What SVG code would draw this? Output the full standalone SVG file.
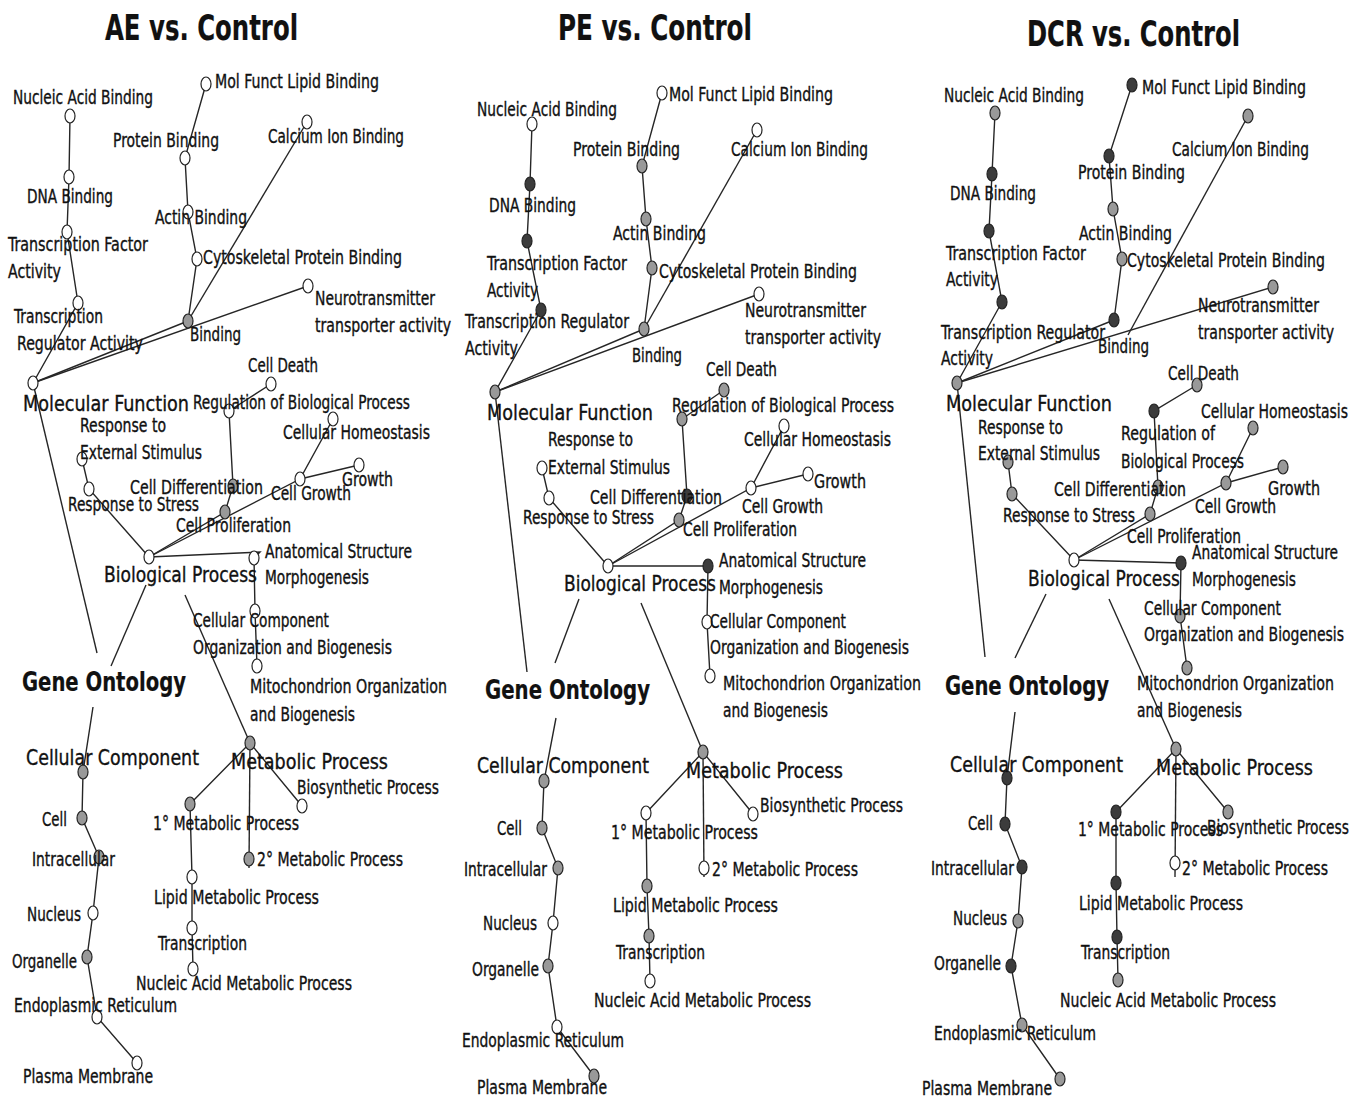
<svg xmlns="http://www.w3.org/2000/svg" width="1365" height="1100" viewBox="0 0 1365 1100">
<style>
.bg{fill:#fff}
.l{fill:none;stroke:#262626;stroke-width:1.4}
.n{stroke:#222;stroke-width:1.2}
.w{fill:#fff}.g{fill:#999}.d{fill:#3c3c3c}
text{font-family:"DejaVu Sans Condensed","Liberation Sans",sans-serif;font-size:19px;fill:#111;stroke:#111;stroke-width:0.35}
.b{font-size:22px}
.go{font-size:26px;font-weight:bold;stroke-width:0.2}
.ti{font-size:36px;font-weight:bold;stroke-width:0.2}
</style>
<rect class="bg" x="0" y="0" width="1365" height="1100"/>
<g id="connectors">
<!-- AE -->
<polyline class="l" points="33,383 188,321"/>
<polyline class="l" points="33,383 308,286"/>
<polyline class="l" points="33,383 78,303 67,232 69,177 70,116"/>
<polyline class="l" points="188,321 197,259 188,212 185,158 206,84"/>
<polyline class="l" points="188,321 307,122"/>
<polyline class="l" points="149,557 89,489 82,459"/>
<polyline class="l" points="149,557 225,512 233,486 229,411 271,384"/>
<polyline class="l" points="149,557 300,479 333,419"/>
<polyline class="l" points="300,479 359,465"/>
<polyline class="l" points="149,557 260,552 254,558 255,611 257,666"/>
<polyline class="l" points="33,383 97,653"/>
<polyline class="l" points="146,585 111,666"/>
<polyline class="l" points="185,595 250,743"/>
<polyline class="l" points="93,707 83,772 82,818 99,857 93,913 87,957 97,1017 137,1063"/>
<polyline class="l" points="190,804 250,743 302,806"/>
<polyline class="l" points="250,743 249,868"/>
<polyline class="l" points="190,804 192,877 192,928 193,969"/>
<!-- PE -->
<polyline class="l" points="495,392 644,329"/>
<polyline class="l" points="495,392 759,294"/>
<polyline class="l" points="495,392 541,310 527,241 530,184 532,124"/>
<polyline class="l" points="644,329 652,268 646,219 642,166 662,93"/>
<polyline class="l" points="644,329 757,130"/>
<polyline class="l" points="608,566 549,498 542,468"/>
<polyline class="l" points="608,566 679,520 687,496 682,419 724,390"/>
<polyline class="l" points="608,566 751,488 784,426"/>
<polyline class="l" points="751,488 808,474"/>
<polyline class="l" points="608,566 708,566 707,622 710,676"/>
<polyline class="l" points="495,392 527,672"/>
<polyline class="l" points="579,599 555,663"/>
<polyline class="l" points="641,603 703,752"/>
<polyline class="l" points="556,718 544,781 542,828 558,868 553,923 548,966 557,1027 594,1076"/>
<polyline class="l" points="646,813 703,752 753,814"/>
<polyline class="l" points="703,752 704,877"/>
<polyline class="l" points="646,813 647,886 649,936 650,981"/>
<!-- DCR -->
<polyline class="l" points="957,383 1114,320"/>
<polyline class="l" points="957,383 1273,287"/>
<polyline class="l" points="957,383 1002,302 989,231 992,174 995,113"/>
<polyline class="l" points="1114,320 1122,259 1113,209 1109,156 1132,85"/>
<polyline class="l" points="1128,335 1248,116"/>
<polyline class="l" points="1074,560 1012,494 1008,462"/>
<polyline class="l" points="1074,560 1150,514 1158,487 1154,411 1197,385"/>
<polyline class="l" points="1074,560 1226,483 1253,428"/>
<polyline class="l" points="1226,483 1283,467"/>
<polyline class="l" points="1074,560 1181,563 1180,616 1187,668"/>
<polyline class="l" points="957,383 985,657"/>
<polyline class="l" points="1046,594 1015,658"/>
<polyline class="l" points="1109,599 1176,749"/>
<polyline class="l" points="1015,712 1007,778 1005,824 1022,867 1018,921 1011,966 1022,1025 1060,1079"/>
<polyline class="l" points="1116,812 1176,749 1228,812"/>
<polyline class="l" points="1176,749 1175,877"/>
<polyline class="l" points="1116,812 1116,883 1117,937 1118,980"/>
</g>

<!-- ============ AE vs. Control ============ -->
<g id="ae-title"><text class="ti" x="105" y="40" textLength="193" lengthAdjust="spacingAndGlyphs">AE vs. Control</text></g>
<g id="ae-mflb"><ellipse class="n w" cx="206" cy="84" rx="5" ry="7"/><text x="215" y="88" textLength="164" lengthAdjust="spacingAndGlyphs">Mol Funct Lipid Binding</text></g>
<g id="ae-nab"><ellipse class="n w" cx="70" cy="116" rx="5" ry="7"/><text x="13" y="104" textLength="140" lengthAdjust="spacingAndGlyphs">Nucleic Acid Binding</text></g>
<g id="ae-pb"><ellipse class="n w" cx="185" cy="158" rx="5" ry="7"/><text x="113" y="147" textLength="106" lengthAdjust="spacingAndGlyphs">Protein Binding</text></g>
<g id="ae-cib"><ellipse class="n w" cx="307" cy="122" rx="5" ry="7"/><text x="268" y="143" textLength="136" lengthAdjust="spacingAndGlyphs">Calcium Ion Binding</text></g>
<g id="ae-dna"><ellipse class="n w" cx="69" cy="177" rx="5" ry="7"/><text x="27" y="203" textLength="86" lengthAdjust="spacingAndGlyphs">DNA Binding</text></g>
<g id="ae-actin"><ellipse class="n w" cx="188" cy="212" rx="5" ry="7"/><text x="155" y="224" textLength="92" lengthAdjust="spacingAndGlyphs">Actin Binding</text></g>
<g id="ae-tfa"><ellipse class="n w" cx="67" cy="232" rx="5" ry="7"/><text x="8" y="251" textLength="140" lengthAdjust="spacingAndGlyphs">Transcription Factor</text><text x="8" y="278" textLength="53" lengthAdjust="spacingAndGlyphs">Activity</text></g>
<g id="ae-cyto"><ellipse class="n w" cx="197" cy="259" rx="5" ry="7"/><text x="203" y="264" textLength="199" lengthAdjust="spacingAndGlyphs">Cytoskeletal Protein Binding</text></g>
<g id="ae-neuro"><ellipse class="n w" cx="308" cy="286" rx="5" ry="7"/><text x="315" y="305" textLength="120" lengthAdjust="spacingAndGlyphs">Neurotransmitter</text><text x="315" y="332" textLength="136" lengthAdjust="spacingAndGlyphs">transporter activity</text></g>
<g id="ae-tra"><ellipse class="n w" cx="78" cy="303" rx="5" ry="7"/><text x="14" y="323" textLength="89" lengthAdjust="spacingAndGlyphs">Transcription</text><text x="17" y="350" textLength="126" lengthAdjust="spacingAndGlyphs">Regulator Activity</text></g>
<g id="ae-binding"><ellipse class="n g" cx="188" cy="321" rx="5" ry="7"/><text x="190" y="341" textLength="51" lengthAdjust="spacingAndGlyphs">Binding</text></g>
<g id="ae-mf"><ellipse class="n w" cx="33" cy="383" rx="5" ry="7"/><text class="b" x="23" y="411" textLength="166" lengthAdjust="spacingAndGlyphs">Molecular Function</text></g>
<g id="ae-celldeath"><ellipse class="n w" cx="271" cy="384" rx="5" ry="7"/><text x="248" y="372" textLength="70" lengthAdjust="spacingAndGlyphs">Cell Death</text></g>
<g id="ae-regbp"><ellipse class="n w" cx="229" cy="411" rx="5" ry="7"/><text x="193" y="409" textLength="217" lengthAdjust="spacingAndGlyphs">Regulation of Biological Process</text></g>
<g id="ae-homeo"><ellipse class="n w" cx="333" cy="419" rx="5" ry="7"/><text x="283" y="439" textLength="147" lengthAdjust="spacingAndGlyphs">Cellular Homeostasis</text></g>
<g id="ae-respext"><ellipse class="n w" cx="82" cy="459" rx="5" ry="7"/><text x="80" y="432" textLength="86" lengthAdjust="spacingAndGlyphs">Response to</text><text x="80" y="459" textLength="122" lengthAdjust="spacingAndGlyphs">External Stimulus</text></g>
<g id="ae-growth"><ellipse class="n w" cx="359" cy="465" rx="5" ry="7"/><text x="342" y="486" textLength="51" lengthAdjust="spacingAndGlyphs">Growth</text></g>
<g id="ae-cellgrowth"><ellipse class="n w" cx="300" cy="479" rx="5" ry="7"/><text x="271" y="500" textLength="80" lengthAdjust="spacingAndGlyphs">Cell Growth</text></g>
<g id="ae-respstress"><ellipse class="n w" cx="89" cy="489" rx="5" ry="7"/><text x="68" y="511" textLength="131" lengthAdjust="spacingAndGlyphs">Response to Stress</text></g>
<g id="ae-celldiff"><ellipse class="n g" cx="233" cy="486" rx="5" ry="7"/><text x="130" y="494" textLength="133" lengthAdjust="spacingAndGlyphs">Cell Differentiation</text></g>
<g id="ae-cellprolif"><ellipse class="n g" cx="225" cy="512" rx="5" ry="7"/><text x="176" y="532" textLength="115" lengthAdjust="spacingAndGlyphs">Cell Proliferation</text></g>
<g id="ae-bp"><ellipse class="n w" cx="149" cy="557" rx="5" ry="7"/><text class="b" x="104" y="582" textLength="153" lengthAdjust="spacingAndGlyphs">Biological Process</text></g>
<g id="ae-anat"><ellipse class="n w" cx="254" cy="558" rx="5" ry="7"/><text x="265" y="558" textLength="147" lengthAdjust="spacingAndGlyphs">Anatomical Structure</text><text x="265" y="584" textLength="104" lengthAdjust="spacingAndGlyphs">Morphogenesis</text></g>
<g id="ae-ccorg"><ellipse class="n w" cx="255" cy="611" rx="5" ry="7"/><text x="193" y="627" textLength="136" lengthAdjust="spacingAndGlyphs">Cellular Component</text><text x="193" y="654" textLength="199" lengthAdjust="spacingAndGlyphs">Organization and Biogenesis</text></g>
<g id="ae-mito"><ellipse class="n w" cx="257" cy="666" rx="5" ry="7"/><text x="250" y="693" textLength="197" lengthAdjust="spacingAndGlyphs">Mitochondrion Organization</text><text x="250" y="721" textLength="105" lengthAdjust="spacingAndGlyphs">and Biogenesis</text></g>
<g id="ae-go"><text class="go" x="22" y="691" textLength="164" lengthAdjust="spacingAndGlyphs">Gene Ontology</text></g>
<g id="ae-cc"><ellipse class="n g" cx="83" cy="772" rx="5" ry="7"/><text class="b" x="26" y="765" textLength="173" lengthAdjust="spacingAndGlyphs">Cellular Component</text></g>
<g id="ae-cell"><ellipse class="n g" cx="82" cy="818" rx="5" ry="7"/><text x="42" y="826" textLength="25" lengthAdjust="spacingAndGlyphs">Cell</text></g>
<g id="ae-intra"><ellipse class="n g" cx="99" cy="857" rx="5" ry="7"/><text x="32" y="866" textLength="83" lengthAdjust="spacingAndGlyphs">Intracellular</text></g>
<g id="ae-nucleus"><ellipse class="n w" cx="93" cy="913" rx="5" ry="7"/><text x="27" y="921" textLength="54" lengthAdjust="spacingAndGlyphs">Nucleus</text></g>
<g id="ae-organelle"><ellipse class="n g" cx="87" cy="957" rx="5" ry="7"/><text x="12" y="968" textLength="65" lengthAdjust="spacingAndGlyphs">Organelle</text></g>
<g id="ae-er"><ellipse class="n w" cx="97" cy="1017" rx="5" ry="7"/><text x="14" y="1012" textLength="163" lengthAdjust="spacingAndGlyphs">Endoplasmic Reticulum</text></g>
<g id="ae-pm"><ellipse class="n w" cx="137" cy="1063" rx="5" ry="7"/><text x="23" y="1083" textLength="130" lengthAdjust="spacingAndGlyphs">Plasma Membrane</text></g>
<g id="ae-metab"><ellipse class="n g" cx="250" cy="743" rx="5" ry="7"/><text class="b" x="231" y="769" textLength="157" lengthAdjust="spacingAndGlyphs">Metabolic Process</text></g>
<g id="ae-m1"><ellipse class="n g" cx="190" cy="804" rx="5" ry="7"/><text x="153" y="830" textLength="146" lengthAdjust="spacingAndGlyphs">1° Metabolic Process</text></g>
<g id="ae-bio"><ellipse class="n w" cx="302" cy="806" rx="5" ry="7"/><text x="297" y="794" textLength="142" lengthAdjust="spacingAndGlyphs">Biosynthetic Process</text></g>
<g id="ae-m2"><ellipse class="n g" cx="249" cy="859" rx="5" ry="7"/><text x="257" y="866" textLength="146" lengthAdjust="spacingAndGlyphs">2° Metabolic Process</text></g>
<g id="ae-lipid"><ellipse class="n w" cx="192" cy="877" rx="5" ry="7"/><text x="154" y="904" textLength="165" lengthAdjust="spacingAndGlyphs">Lipid Metabolic Process</text></g>
<g id="ae-transcr"><ellipse class="n w" cx="192" cy="928" rx="5" ry="7"/><text x="158" y="950" textLength="89" lengthAdjust="spacingAndGlyphs">Transcription</text></g>
<g id="ae-namp"><ellipse class="n w" cx="193" cy="969" rx="5" ry="7"/><text x="136" y="990" textLength="216" lengthAdjust="spacingAndGlyphs">Nucleic Acid Metabolic Process</text></g>

<!-- ============ PE vs. Control ============ -->
<g id="pe-title"><text class="ti" x="558" y="40" textLength="194" lengthAdjust="spacingAndGlyphs">PE vs. Control</text></g>
<g id="pe-mflb"><ellipse class="n w" cx="662" cy="93" rx="5" ry="7"/><text x="669" y="101" textLength="164" lengthAdjust="spacingAndGlyphs">Mol Funct Lipid Binding</text></g>
<g id="pe-nab"><ellipse class="n w" cx="532" cy="124" rx="5" ry="7"/><text x="477" y="116" textLength="140" lengthAdjust="spacingAndGlyphs">Nucleic Acid Binding</text></g>
<g id="pe-pb"><ellipse class="n g" cx="642" cy="166" rx="5" ry="7"/><text x="573" y="156" textLength="107" lengthAdjust="spacingAndGlyphs">Protein Binding</text></g>
<g id="pe-cib"><ellipse class="n w" cx="757" cy="130" rx="5" ry="7"/><text x="731" y="156" textLength="137" lengthAdjust="spacingAndGlyphs">Calcium Ion Binding</text></g>
<g id="pe-dna"><ellipse class="n d" cx="530" cy="184" rx="5" ry="7"/><text x="489" y="212" textLength="87" lengthAdjust="spacingAndGlyphs">DNA Binding</text></g>
<g id="pe-actin"><ellipse class="n g" cx="646" cy="219" rx="5" ry="7"/><text x="613" y="240" textLength="93" lengthAdjust="spacingAndGlyphs">Actin Binding</text></g>
<g id="pe-tfa"><ellipse class="n d" cx="527" cy="241" rx="5" ry="7"/><text x="487" y="270" textLength="140" lengthAdjust="spacingAndGlyphs">Transcription Factor</text><text x="487" y="297" textLength="51" lengthAdjust="spacingAndGlyphs">Activity</text></g>
<g id="pe-cyto"><ellipse class="n g" cx="652" cy="268" rx="5" ry="7"/><text x="659" y="278" textLength="198" lengthAdjust="spacingAndGlyphs">Cytoskeletal Protein Binding</text></g>
<g id="pe-neuro"><ellipse class="n w" cx="759" cy="294" rx="5" ry="7"/><text x="745" y="317" textLength="121" lengthAdjust="spacingAndGlyphs">Neurotransmitter</text><text x="745" y="344" textLength="136" lengthAdjust="spacingAndGlyphs">transporter activity</text></g>
<g id="pe-tra"><ellipse class="n d" cx="541" cy="310" rx="5" ry="7"/><text x="465" y="328" textLength="164" lengthAdjust="spacingAndGlyphs">Transcription Regulator</text><text x="465" y="355" textLength="53" lengthAdjust="spacingAndGlyphs">Activity</text></g>
<g id="pe-binding"><ellipse class="n g" cx="644" cy="329" rx="5" ry="7"/><text x="632" y="362" textLength="50" lengthAdjust="spacingAndGlyphs">Binding</text></g>
<g id="pe-mf"><ellipse class="n g" cx="495" cy="392" rx="5" ry="7"/><text class="b" x="487" y="420" textLength="166" lengthAdjust="spacingAndGlyphs">Molecular Function</text></g>
<g id="pe-celldeath"><ellipse class="n g" cx="724" cy="390" rx="5" ry="7"/><text x="706" y="376" textLength="71" lengthAdjust="spacingAndGlyphs">Cell Death</text></g>
<g id="pe-regbp"><ellipse class="n g" cx="682" cy="419" rx="5" ry="7"/><text x="672" y="412" textLength="222" lengthAdjust="spacingAndGlyphs">Regulation of Biological Process</text></g>
<g id="pe-homeo"><ellipse class="n w" cx="784" cy="426" rx="5" ry="7"/><text x="744" y="446" textLength="147" lengthAdjust="spacingAndGlyphs">Cellular Homeostasis</text></g>
<g id="pe-respext"><ellipse class="n w" cx="542" cy="468" rx="5" ry="7"/><text x="548" y="446" textLength="85" lengthAdjust="spacingAndGlyphs">Response to</text><text x="548" y="474" textLength="122" lengthAdjust="spacingAndGlyphs">External Stimulus</text></g>
<g id="pe-growth"><ellipse class="n w" cx="808" cy="474" rx="5" ry="7"/><text x="814" y="488" textLength="52" lengthAdjust="spacingAndGlyphs">Growth</text></g>
<g id="pe-cellgrowth"><ellipse class="n w" cx="751" cy="488" rx="5" ry="7"/><text x="742" y="513" textLength="81" lengthAdjust="spacingAndGlyphs">Cell Growth</text></g>
<g id="pe-respstress"><ellipse class="n w" cx="549" cy="498" rx="5" ry="7"/><text x="523" y="524" textLength="131" lengthAdjust="spacingAndGlyphs">Response to Stress</text></g>
<g id="pe-celldiff"><ellipse class="n d" cx="687" cy="496" rx="5" ry="7"/><text x="590" y="504" textLength="132" lengthAdjust="spacingAndGlyphs">Cell Differentiation</text></g>
<g id="pe-cellprolif"><ellipse class="n g" cx="679" cy="520" rx="5" ry="7"/><text x="683" y="536" textLength="114" lengthAdjust="spacingAndGlyphs">Cell Proliferation</text></g>
<g id="pe-bp"><ellipse class="n w" cx="608" cy="566" rx="5" ry="7"/><text class="b" x="564" y="591" textLength="152" lengthAdjust="spacingAndGlyphs">Biological Process</text></g>
<g id="pe-anat"><ellipse class="n d" cx="708" cy="566" rx="5" ry="7"/><text x="719" y="567" textLength="147" lengthAdjust="spacingAndGlyphs">Anatomical Structure</text><text x="719" y="594" textLength="104" lengthAdjust="spacingAndGlyphs">Morphogenesis</text></g>
<g id="pe-ccorg"><ellipse class="n w" cx="707" cy="622" rx="5" ry="7"/><text x="710" y="628" textLength="136" lengthAdjust="spacingAndGlyphs">Cellular Component</text><text x="710" y="654" textLength="199" lengthAdjust="spacingAndGlyphs">Organization and Biogenesis</text></g>
<g id="pe-mito"><ellipse class="n w" cx="710" cy="676" rx="5" ry="7"/><text x="723" y="690" textLength="198" lengthAdjust="spacingAndGlyphs">Mitochondrion Organization</text><text x="723" y="717" textLength="105" lengthAdjust="spacingAndGlyphs">and Biogenesis</text></g>
<g id="pe-go"><text class="go" x="485" y="699" textLength="165" lengthAdjust="spacingAndGlyphs">Gene Ontology</text></g>
<g id="pe-cc"><ellipse class="n g" cx="544" cy="781" rx="5" ry="7"/><text class="b" x="477" y="773" textLength="172" lengthAdjust="spacingAndGlyphs">Cellular Component</text></g>
<g id="pe-cell"><ellipse class="n g" cx="542" cy="828" rx="5" ry="7"/><text x="497" y="835" textLength="25" lengthAdjust="spacingAndGlyphs">Cell</text></g>
<g id="pe-intra"><ellipse class="n g" cx="558" cy="868" rx="5" ry="7"/><text x="464" y="876" textLength="83" lengthAdjust="spacingAndGlyphs">Intracellular</text></g>
<g id="pe-nucleus"><ellipse class="n w" cx="553" cy="923" rx="5" ry="7"/><text x="483" y="930" textLength="54" lengthAdjust="spacingAndGlyphs">Nucleus</text></g>
<g id="pe-organelle"><ellipse class="n g" cx="548" cy="966" rx="5" ry="7"/><text x="472" y="976" textLength="67" lengthAdjust="spacingAndGlyphs">Organelle</text></g>
<g id="pe-er"><ellipse class="n w" cx="557" cy="1027" rx="5" ry="7"/><text x="462" y="1047" textLength="162" lengthAdjust="spacingAndGlyphs">Endoplasmic Reticulum</text></g>
<g id="pe-pm"><ellipse class="n g" cx="594" cy="1076" rx="5" ry="7"/><text x="477" y="1094" textLength="130" lengthAdjust="spacingAndGlyphs">Plasma Membrane</text></g>
<g id="pe-metab"><ellipse class="n g" cx="703" cy="752" rx="5" ry="7"/><text class="b" x="686" y="778" textLength="157" lengthAdjust="spacingAndGlyphs">Metabolic Process</text></g>
<g id="pe-m1"><ellipse class="n w" cx="646" cy="813" rx="5" ry="7"/><text x="611" y="839" textLength="147" lengthAdjust="spacingAndGlyphs">1° Metabolic Process</text></g>
<g id="pe-bio"><ellipse class="n w" cx="753" cy="814" rx="5" ry="7"/><text x="760" y="812" textLength="143" lengthAdjust="spacingAndGlyphs">Biosynthetic Process</text></g>
<g id="pe-m2"><ellipse class="n w" cx="704" cy="868" rx="5" ry="7"/><text x="712" y="876" textLength="146" lengthAdjust="spacingAndGlyphs">2° Metabolic Process</text></g>
<g id="pe-lipid"><ellipse class="n g" cx="647" cy="886" rx="5" ry="7"/><text x="613" y="912" textLength="165" lengthAdjust="spacingAndGlyphs">Lipid Metabolic Process</text></g>
<g id="pe-transcr"><ellipse class="n g" cx="649" cy="936" rx="5" ry="7"/><text x="616" y="959" textLength="89" lengthAdjust="spacingAndGlyphs">Transcription</text></g>
<g id="pe-namp"><ellipse class="n w" cx="650" cy="981" rx="5" ry="7"/><text x="594" y="1007" textLength="217" lengthAdjust="spacingAndGlyphs">Nucleic Acid Metabolic Process</text></g>

<!-- ============ DCR vs. Control ============ -->
<g id="dcr-title"><text class="ti" x="1027" y="46" textLength="213" lengthAdjust="spacingAndGlyphs">DCR vs. Control</text></g>
<g id="dcr-mflb"><ellipse class="n d" cx="1132" cy="85" rx="5" ry="7"/><text x="1142" y="94" textLength="164" lengthAdjust="spacingAndGlyphs">Mol Funct Lipid Binding</text></g>
<g id="dcr-nab"><ellipse class="n g" cx="995" cy="113" rx="5" ry="7"/><text x="944" y="102" textLength="140" lengthAdjust="spacingAndGlyphs">Nucleic Acid Binding</text></g>
<g id="dcr-cib"><ellipse class="n g" cx="1248" cy="116" rx="5" ry="7"/><text x="1172" y="156" textLength="137" lengthAdjust="spacingAndGlyphs">Calcium Ion Binding</text></g>
<g id="dcr-pb"><ellipse class="n d" cx="1109" cy="156" rx="5" ry="7"/><text x="1078" y="179" textLength="107" lengthAdjust="spacingAndGlyphs">Protein Binding</text></g>
<g id="dcr-dna"><ellipse class="n d" cx="992" cy="174" rx="5" ry="7"/><text x="950" y="200" textLength="86" lengthAdjust="spacingAndGlyphs">DNA Binding</text></g>
<g id="dcr-actin"><ellipse class="n g" cx="1113" cy="209" rx="5" ry="7"/><text x="1079" y="240" textLength="93" lengthAdjust="spacingAndGlyphs">Actin Binding</text></g>
<g id="dcr-tfa"><ellipse class="n d" cx="989" cy="231" rx="5" ry="7"/><text x="946" y="260" textLength="140" lengthAdjust="spacingAndGlyphs">Transcription Factor</text><text x="946" y="286" textLength="52" lengthAdjust="spacingAndGlyphs">Activity</text></g>
<g id="dcr-cyto"><ellipse class="n g" cx="1122" cy="259" rx="5" ry="7"/><text x="1127" y="267" textLength="198" lengthAdjust="spacingAndGlyphs">Cytoskeletal Protein Binding</text></g>
<g id="dcr-neuro"><ellipse class="n g" cx="1273" cy="287" rx="5" ry="7"/><text x="1198" y="312" textLength="121" lengthAdjust="spacingAndGlyphs">Neurotransmitter</text><text x="1198" y="339" textLength="136" lengthAdjust="spacingAndGlyphs">transporter activity</text></g>
<g id="dcr-tra"><ellipse class="n d" cx="1002" cy="302" rx="5" ry="7"/><text x="941" y="339" textLength="164" lengthAdjust="spacingAndGlyphs">Transcription Regulator</text><text x="941" y="365" textLength="52" lengthAdjust="spacingAndGlyphs">Activity</text></g>
<g id="dcr-binding"><ellipse class="n d" cx="1114" cy="320" rx="5" ry="7"/><text x="1098" y="353" textLength="51" lengthAdjust="spacingAndGlyphs">Binding</text></g>
<g id="dcr-mf"><ellipse class="n g" cx="957" cy="383" rx="5" ry="7"/><text class="b" x="946" y="411" textLength="166" lengthAdjust="spacingAndGlyphs">Molecular Function</text></g>
<g id="dcr-celldeath"><ellipse class="n g" cx="1197" cy="385" rx="5" ry="7"/><text x="1168" y="380" textLength="71" lengthAdjust="spacingAndGlyphs">Cell Death</text></g>
<g id="dcr-regbp"><ellipse class="n d" cx="1154" cy="411" rx="5" ry="7"/><text x="1121" y="440" textLength="94" lengthAdjust="spacingAndGlyphs">Regulation of</text><text x="1121" y="468" textLength="123" lengthAdjust="spacingAndGlyphs">Biological Process</text></g>
<g id="dcr-homeo"><ellipse class="n g" cx="1253" cy="428" rx="5" ry="7"/><text x="1201" y="418" textLength="147" lengthAdjust="spacingAndGlyphs">Cellular Homeostasis</text></g>
<g id="dcr-respext"><ellipse class="n g" cx="1008" cy="462" rx="5" ry="7"/><text x="978" y="434" textLength="85" lengthAdjust="spacingAndGlyphs">Response to</text><text x="978" y="460" textLength="122" lengthAdjust="spacingAndGlyphs">External Stimulus</text></g>
<g id="dcr-growth"><ellipse class="n g" cx="1283" cy="467" rx="5" ry="7"/><text x="1268" y="495" textLength="52" lengthAdjust="spacingAndGlyphs">Growth</text></g>
<g id="dcr-cellgrowth"><ellipse class="n g" cx="1226" cy="483" rx="5" ry="7"/><text x="1195" y="513" textLength="81" lengthAdjust="spacingAndGlyphs">Cell Growth</text></g>
<g id="dcr-respstress"><ellipse class="n g" cx="1012" cy="494" rx="5" ry="7"/><text x="1003" y="522" textLength="132" lengthAdjust="spacingAndGlyphs">Response to Stress</text></g>
<g id="dcr-celldiff"><ellipse class="n g" cx="1158" cy="487" rx="5" ry="7"/><text x="1054" y="496" textLength="132" lengthAdjust="spacingAndGlyphs">Cell Differentiation</text></g>
<g id="dcr-cellprolif"><ellipse class="n g" cx="1150" cy="514" rx="5" ry="7"/><text x="1127" y="543" textLength="114" lengthAdjust="spacingAndGlyphs">Cell Proliferation</text></g>
<g id="dcr-bp"><ellipse class="n w" cx="1074" cy="560" rx="5" ry="7"/><text class="b" x="1028" y="586" textLength="152" lengthAdjust="spacingAndGlyphs">Biological Process</text></g>
<g id="dcr-anat"><ellipse class="n d" cx="1181" cy="563" rx="5" ry="7"/><text x="1192" y="559" textLength="146" lengthAdjust="spacingAndGlyphs">Anatomical Structure</text><text x="1192" y="586" textLength="104" lengthAdjust="spacingAndGlyphs">Morphogenesis</text></g>
<g id="dcr-ccorg"><ellipse class="n g" cx="1180" cy="616" rx="5" ry="7"/><text x="1144" y="615" textLength="137" lengthAdjust="spacingAndGlyphs">Cellular Component</text><text x="1144" y="641" textLength="200" lengthAdjust="spacingAndGlyphs">Organization and Biogenesis</text></g>
<g id="dcr-mito"><ellipse class="n g" cx="1187" cy="668" rx="5" ry="7"/><text x="1137" y="690" textLength="197" lengthAdjust="spacingAndGlyphs">Mitochondrion Organization</text><text x="1137" y="717" textLength="105" lengthAdjust="spacingAndGlyphs">and Biogenesis</text></g>
<g id="dcr-go"><text class="go" x="945" y="695" textLength="164" lengthAdjust="spacingAndGlyphs">Gene Ontology</text></g>
<g id="dcr-cc"><ellipse class="n d" cx="1007" cy="778" rx="5" ry="7"/><text class="b" x="950" y="772" textLength="173" lengthAdjust="spacingAndGlyphs">Cellular Component</text></g>
<g id="dcr-cell"><ellipse class="n d" cx="1005" cy="824" rx="5" ry="7"/><text x="968" y="830" textLength="25" lengthAdjust="spacingAndGlyphs">Cell</text></g>
<g id="dcr-intra"><ellipse class="n d" cx="1022" cy="867" rx="5" ry="7"/><text x="931" y="875" textLength="83" lengthAdjust="spacingAndGlyphs">Intracellular</text></g>
<g id="dcr-nucleus"><ellipse class="n g" cx="1018" cy="921" rx="5" ry="7"/><text x="953" y="925" textLength="54" lengthAdjust="spacingAndGlyphs">Nucleus</text></g>
<g id="dcr-organelle"><ellipse class="n d" cx="1011" cy="966" rx="5" ry="7"/><text x="934" y="970" textLength="67" lengthAdjust="spacingAndGlyphs">Organelle</text></g>
<g id="dcr-er"><ellipse class="n g" cx="1022" cy="1025" rx="5" ry="7"/><text x="934" y="1040" textLength="162" lengthAdjust="spacingAndGlyphs">Endoplasmic Reticulum</text></g>
<g id="dcr-pm"><ellipse class="n g" cx="1060" cy="1079" rx="5" ry="7"/><text x="922" y="1095" textLength="130" lengthAdjust="spacingAndGlyphs">Plasma Membrane</text></g>
<g id="dcr-metab"><ellipse class="n g" cx="1176" cy="749" rx="5" ry="7"/><text class="b" x="1156" y="775" textLength="157" lengthAdjust="spacingAndGlyphs">Metabolic Process</text></g>
<g id="dcr-m1"><ellipse class="n d" cx="1116" cy="812" rx="5" ry="7"/><text x="1078" y="836" textLength="145" lengthAdjust="spacingAndGlyphs">1° Metabolic Process</text></g>
<g id="dcr-bio"><ellipse class="n g" cx="1228" cy="812" rx="5" ry="7"/><text x="1207" y="834" textLength="142" lengthAdjust="spacingAndGlyphs">Biosynthetic Process</text></g>
<g id="dcr-m2"><ellipse class="n w" cx="1175" cy="863" rx="5" ry="7"/><text x="1182" y="875" textLength="146" lengthAdjust="spacingAndGlyphs">2° Metabolic Process</text></g>
<g id="dcr-lipid"><ellipse class="n d" cx="1116" cy="883" rx="5" ry="7"/><text x="1079" y="910" textLength="164" lengthAdjust="spacingAndGlyphs">Lipid Metabolic Process</text></g>
<g id="dcr-transcr"><ellipse class="n d" cx="1117" cy="937" rx="5" ry="7"/><text x="1081" y="959" textLength="89" lengthAdjust="spacingAndGlyphs">Transcription</text></g>
<g id="dcr-namp"><ellipse class="n g" cx="1118" cy="980" rx="5" ry="7"/><text x="1060" y="1007" textLength="216" lengthAdjust="spacingAndGlyphs">Nucleic Acid Metabolic Process</text></g>
</svg>
